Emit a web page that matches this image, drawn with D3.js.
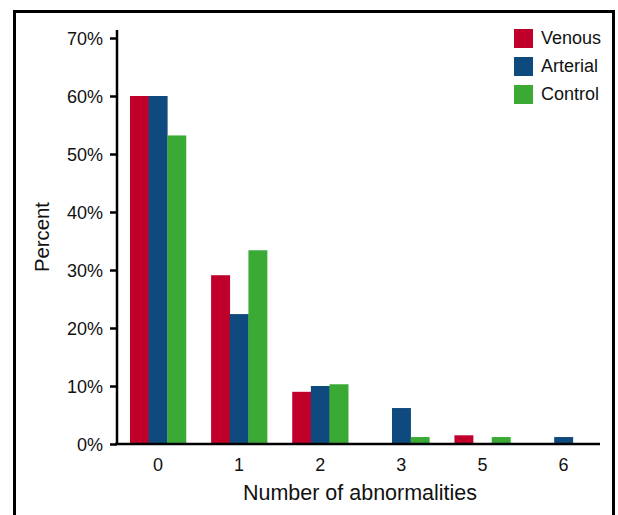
<!DOCTYPE html>
<html><head><meta charset="utf-8">
<script src="https://cdn.jsdelivr.net/npm/d3@7"></script>
<style>html,body{margin:0;padding:0;background:#fff}</style>
</head><body>
<svg id="c" width="618" height="515"></svg>
<script>
const categories = ["0","1","2","3","5","6"];
const seriesNames = ["Venous","Arterial","Control"];
const venous   = [60, 29.1, 9.0, 0, 1.5, 0];
const arterial = [60, 22.4, 10.0, 6.2, 0, 1.2];
const control  = [53.2, 33.4, 10.3, 1.2, 1.2, 0];
const yTicks = [0,10,20,30,40,50,60,70];
const colors = ["#c0002a","#0f4a7e","#3aaa35"];

const seriesData = [venous, arterial, control];
const svg = d3.select("#c");
const font = "'Liberation Sans', Arial, sans-serif";

// frame
svg.append("rect").attr("x",14.5).attr("y",11.5).attr("width",599).attr("height",530)
  .attr("fill","none").attr("stroke","#000").attr("stroke-width",3);

const x = d3.scaleBand().domain(categories).range([130,591.5]).paddingInner(0.31).paddingOuter(0);
const xs = d3.scaleBand().domain(seriesNames).range([0,x.bandwidth()]);
const y = d3.scaleLinear().domain([0,70]).range([444,38]);

// bars
const g = svg.append("g");
categories.forEach((c,i)=>{
  seriesNames.forEach((s,j)=>{
    const v = seriesData[j][i];
    if (v<=0) return;
    g.append("rect").attr("x",x(c)+xs(s)).attr("y",y(v))
      .attr("width",xs.bandwidth()+0.3).attr("height",y(0)-y(v)).attr("fill",colors[j]);
  });
});

// y axis
const ya = svg.append("g").attr("transform","translate(117,0)")
  .call(d3.axisLeft(y).tickValues(yTicks).tickSize(7).tickPadding(7).tickFormat(d=>d+"%"));
ya.select(".domain").attr("d","M0,30V445").attr("stroke","#000").attr("stroke-width",2.5);
ya.selectAll(".tick line").attr("stroke","#000").attr("stroke-width",2.5);
ya.selectAll(".tick text").attr("font-family",font).attr("font-size",18).attr("fill","#111").attr("dy","0.34em");

// x axis
const xa = svg.append("g").attr("transform","translate(0,444)")
  .call(d3.axisBottom(x).tickSize(0).tickPadding(14));
xa.select(".domain").attr("d","M115,0H600").attr("stroke","#000").attr("stroke-width",2.5);
xa.selectAll(".tick text").attr("font-family",font).attr("font-size",18).attr("fill","#111");

// axis titles
svg.append("text").attr("x",360).attr("y",500).attr("text-anchor","middle")
  .attr("font-family",font).attr("font-size",22).attr("fill","#111")
  .attr("textLength",234).attr("lengthAdjust","spacingAndGlyphs")
  .text("Number of abnormalities");
svg.append("text").attr("transform","translate(49,237) rotate(-90)").attr("text-anchor","middle")
  .attr("font-family",font).attr("font-size",21).attr("fill","#111")
  .attr("textLength",70).attr("lengthAdjust","spacingAndGlyphs")
  .text("Percent");

// legend
const lg = svg.append("g");
seriesNames.forEach((s,i)=>{
  lg.append("rect").attr("x",514).attr("y",29+i*28).attr("width",19).attr("height",19).attr("fill",colors[i]);
  lg.append("text").attr("x",541).attr("y",44+i*28).attr("font-family",font).attr("font-size",18)
    .attr("fill","#111").text(s);
});
</script>
</body></html>
